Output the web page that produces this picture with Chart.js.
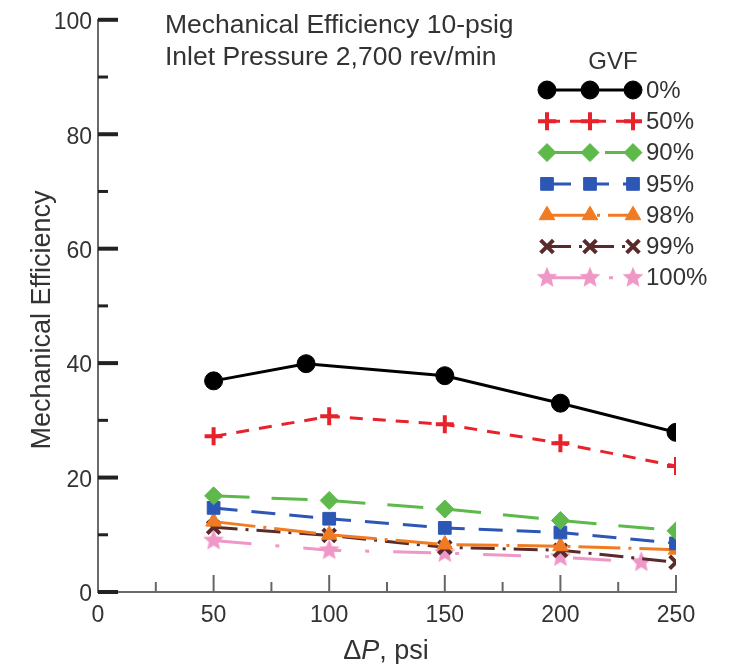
<!DOCTYPE html>
<html lang="en">
<head>
  <meta charset="UTF-8" />
  <title>Mechanical Efficiency</title>
  <script src="https://cdn.jsdelivr.net/npm/chart.js@4.4.0/dist/chart.umd.min.js"></script>
  <style>
    html, body { margin: 0; padding: 0; background: #fff; }
    #wrap { width: 732px; height: 664px; }
  </style>
</head>
<body>
  <div id="wrap"><canvas id="effChart"></canvas></div>

  <script>
    // values (delta P in psi, mechanical efficiency in %)
    const gvfLabels = ['0%', '50%', '90%', '95%', '98%', '99%', '100%'];
    const dpStd = [50, 100, 150, 200, 250];
    const dp0 = [50, 90, 150, 200, 250];
    const dp100 = [50, 100, 150, 200, 235];

    const eff0 = [36.9, 39.9, 37.8, 33.0, 27.9];
    const eff50 = [27.2, 30.7, 29.3, 26.0, 22.0];
    const eff90 = [16.8, 16.0, 14.5, 12.5, 10.7];
    const eff95 = [14.7, 12.8, 11.2, 10.4, 8.5];
    const eff98 = [12.3, 10.0, 8.3, 8.0, 7.4];
    const eff99 = [11.3, 9.9, 7.8, 7.3, 5.2];
    const eff100 = [9.0, 7.3, 6.8, 6.1, 5.2];

    const yTicks = [0, 20, 40, 60, 80, 100];
    const xTicks = [0, 50, 100, 150, 200, 250];

    const FONT = "'Liberation Sans', Arial, Helvetica, sans-serif";
    const TEXT = '#333333';

    // filled five point star for the 100% series
    function makeStar(r, color) {
      const c = document.createElement('canvas');
      c.width = c.height = r * 2 + 2;
      const g = c.getContext('2d');
      g.fillStyle = color;
      g.beginPath();
      for (let i = 0; i < 10; i++) {
        const rr = i % 2 === 0 ? r : r * 0.45;
        const a = -Math.PI / 2 + i * Math.PI / 5;
        const px = r + 1 + rr * Math.cos(a), py = r + 1 + rr * Math.sin(a);
        i === 0 ? g.moveTo(px, py) : g.lineTo(px, py);
      }
      g.closePath();
      g.fill();
      return c;
    }
    const starImg = makeStar(11, '#ef97c6');

    const pts = (xs, ys) => xs.map((x, i) => ({ x: x, y: ys[i] }));

    const series = [
      { label: gvfLabels[0], data: pts(dp0, eff0), color: '#000000', style: 'circle', radius: 9, dash: [], bw: 1 },
      { label: gvfLabels[1], data: pts(dpStd, eff50), color: '#e8222a', style: 'cross', radius: 9, dash: [13, 10], bw: 4 },
      { label: gvfLabels[2], data: pts(dpStd, eff90), color: '#5cb94a', style: 'rectRot', radius: 9, dash: [36, 22], bw: 1 },
      { label: gvfLabels[3], data: pts(dpStd, eff95), color: '#2d57b5', style: 'rect', radius: 9, dash: [24, 14], bw: 1 },
      { label: gvfLabels[4], data: pts(dpStd, eff98), color: '#f07b22', style: 'triangle', radius: 9, dash: [42, 8, 3, 8], bw: 1 },
      { label: gvfLabels[5], data: pts(dpStd, eff99), color: '#5b2b2b', style: 'crossRot', radius: 9, dash: [24, 8, 3, 8], bw: 4 },
      { label: gvfLabels[6], data: pts(dp100, eff100), color: '#ef97c6', style: starImg, radius: 10, dash: [38, 24, 4, 24], bw: 1 }
    ];

    const datasets = series.map(s => ({
      label: s.label,
      data: s.data,
      showLine: true,
      borderColor: s.color,
      backgroundColor: s.color,
      borderWidth: 3,
      borderDash: s.dash,
      pointStyle: s.style,
      pointRadius: s.radius,
      pointBorderWidth: s.bw,
      pointBorderColor: s.color,
      pointBackgroundColor: s.color
    }));

    // inward tick marks, titles and legend drawn on top
    const decor = {
      id: 'decor',
      afterDraw(chart) {
        const { ctx, chartArea: a, scales: { x, y } } = chart;
        ctx.save();
        // y ticks
        ctx.strokeStyle = '#222';
        for (let v = 0; v <= 100; v += 10) {
          const py = y.getPixelForValue(v);
          const major = v % 20 === 0;
          ctx.lineWidth = major ? 4 : 3;
          ctx.beginPath();
          ctx.moveTo(a.left, py);
          ctx.lineTo(a.left + (major ? 20 : 10), py);
          ctx.stroke();
        }
        // x ticks
        ctx.strokeStyle = '#666';
        ctx.lineWidth = 2;
        for (let v = 25; v <= 250; v += 25) {
          const px = x.getPixelForValue(v);
          const major = v % 50 === 0;
          ctx.beginPath();
          ctx.moveTo(px, a.bottom);
          ctx.lineTo(px, a.bottom - (major ? 17 : 10));
          ctx.stroke();
        }

        // title block
        ctx.fillStyle = TEXT;
        ctx.font = '26.5px ' + FONT;
        ctx.textAlign = 'left';
        ctx.textBaseline = 'alphabetic';
        ctx.fillText('Mechanical Efficiency 10-psig', 165, 33);
        ctx.fillText('Inlet Pressure 2,700 rev/min', 165, 65);

        // y axis title
        ctx.save();
        ctx.translate(43, 320);
        ctx.rotate(-Math.PI / 2);
        ctx.font = '27px ' + FONT;
        ctx.textAlign = 'center';
        ctx.textBaseline = 'middle';
        ctx.fillText('Mechanical Efficiency', 0, 0);
        ctx.restore();

        // legend
        ctx.font = '24px ' + FONT;
        ctx.textAlign = 'center';
        ctx.textBaseline = 'middle';
        ctx.fillText('GVF', 613, 62);
        const x0 = 547, x1 = 633;
        series.forEach((s, i) => {
          const ly = 90 + i * 31.3;
          ctx.strokeStyle = s.color;
          ctx.fillStyle = s.color;
          ctx.lineWidth = 3;
          ctx.setLineDash(s.dash);
          ctx.beginPath();
          ctx.moveTo(x0, ly);
          ctx.lineTo(x1, ly);
          ctx.stroke();
          ctx.setLineDash([]);
          [x0, (x0 + x1) / 2, x1].forEach(mx => {
            ctx.strokeStyle = s.color;
            ctx.fillStyle = s.color;
            ctx.lineWidth = s.bw;
            Chart.helpers.drawPoint(ctx, { pointStyle: s.style, radius: s.radius, rotation: 0, borderWidth: s.bw }, mx, ly);
          });
          ctx.fillStyle = TEXT;
          ctx.textAlign = 'left';
          ctx.fillText(s.label, 646, ly + 1);
        });

        // x axis title with italic P
        const parts = [['\u0394', ''], ['P', 'italic '], [', psi', '']];
        ctx.textBaseline = 'alphabetic';
        let total = 0;
        parts.forEach(p => { ctx.font = p[1] + '27px ' + FONT; total += ctx.measureText(p[0]).width; });
        let tx = 386 - total / 2;
        parts.forEach(p => {
          ctx.font = p[1] + '27px ' + FONT;
          ctx.fillStyle = TEXT;
          ctx.textAlign = 'left';
          ctx.fillText(p[0], tx, 659);
          tx += ctx.measureText(p[0]).width;
        });
        ctx.restore();
      }
    };

    new Chart(document.getElementById('effChart'), {
      type: 'scatter',
      data: { datasets: datasets },
      options: {
        responsive: true,
        maintainAspectRatio: false,
        animation: false,
        layout: { padding: { left: 0, right: 56, top: 15, bottom: 0 } },
        plugins: { legend: { display: false }, tooltip: { enabled: false } },
        scales: {
          x: {
            type: 'linear',
            min: 0,
            max: 250,
            afterFit: s => { s.height = 72; },
            afterBuildTicks: s => { s.ticks = xTicks.map(v => ({ value: v })); },
            grid: { display: false, drawTicks: false },
            border: { display: true, color: '#6a6a6a', width: 2 },
            ticks: { color: TEXT, font: { size: 23, family: FONT }, padding: 10 }
          },
          y: {
            type: 'linear',
            min: 0,
            max: 100,
            afterFit: s => { s.width = 98; },
            afterBuildTicks: s => { s.ticks = yTicks.map(v => ({ value: v })); },
            grid: { display: false, drawTicks: false },
            border: { display: true, color: '#6a6a6a', width: 2 },
            ticks: { color: TEXT, font: { size: 23, family: FONT }, padding: 6, labelOffset: 3 }
          }
        }
      },
      plugins: [decor]
    });
  </script>
</body>
</html>
